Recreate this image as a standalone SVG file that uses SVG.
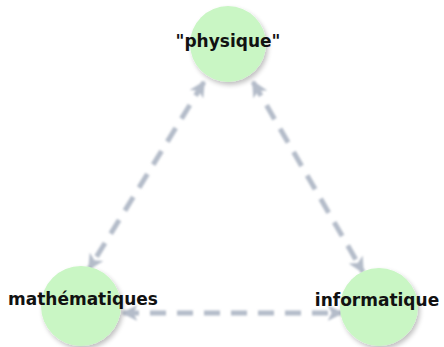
<svg xmlns="http://www.w3.org/2000/svg" width="444" height="347" viewBox="0 0 444 347">
<style>
.node{fill:#c9f6c4;filter:url(#sh)}
.lbl{font-family:"DejaVu Sans",Verdana,sans-serif;font-weight:bold;font-size:17px;fill:#111;text-anchor:middle}
.edge{fill:none;stroke:#b4bcc9;stroke-width:5;stroke-dasharray:16 11;marker-start:url(#ah);marker-end:url(#ah)}
</style>
<defs>
<filter id="sh" x="-30%" y="-30%" width="160%" height="160%">
<feGaussianBlur in="SourceAlpha" stdDeviation="2.5"/>
<feOffset dx="2" dy="3" result="b"/>
<feComponentTransfer><feFuncA type="linear" slope="0.25"/></feComponentTransfer>
<feMerge><feMergeNode/><feMergeNode in="SourceGraphic"/></feMerge>
</filter>
<filter id="bl" x="-10%" y="-10%" width="120%" height="120%">
<feGaussianBlur stdDeviation="1.1"/>
</filter>
<marker id="ah" viewBox="0 0 10 10" refX="9" refY="5" markerWidth="3.2" markerHeight="3.2" orient="auto-start-reverse" markerUnits="strokeWidth">
<path d="M0,0 L10,5 L0,10 L2.5,5 Z" fill="#b4bcc9"/>
</marker>
</defs>
<g id="connectors" filter="url(#bl)">
<path class="edge" d="M204,82 L89,269"/>
<path class="edge" d="M253,82 L363,272"/>
<path class="edge" d="M123,313 L342,313"/>
</g>
<g id="physique">
<circle class="node" cx="228" cy="44" r="38"/>
<text class="lbl" x="228" y="47">"physique"</text>
</g>
<g id="mathematiques">
<circle class="node" cx="81" cy="306" r="40"/>
<text class="lbl" x="83" y="305">mathématiques</text>
</g>
<g id="informatique">
<circle class="node" cx="379" cy="307" r="39"/>
<text class="lbl" x="377" y="306">informatique</text>
</g>
</svg>
